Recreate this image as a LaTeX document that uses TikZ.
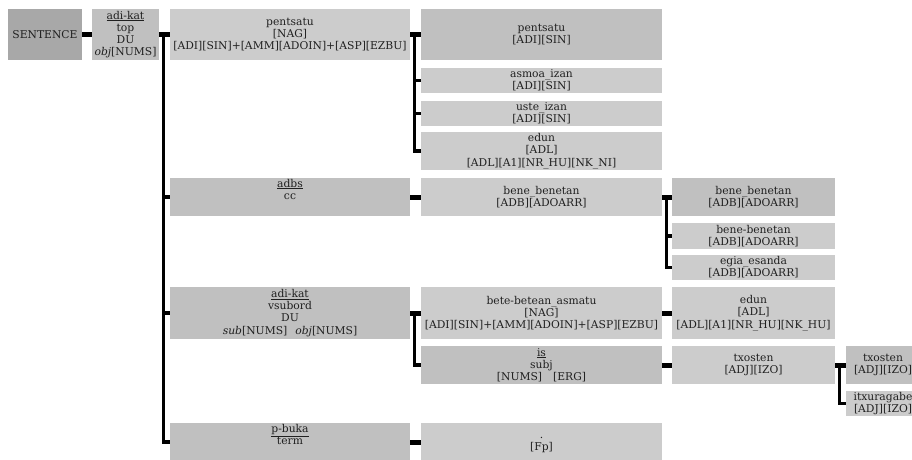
\documentclass[tikz,border=0pt]{standalone}
\usepackage{fontspec}
\setmainfont{DejaVu Serif}
\definecolor{sentc}{HTML}{A8A8A8}
\definecolor{darkc}{HTML}{C0C0C0}
\definecolor{lightc}{HTML}{CCCCCC}
\definecolor{textc}{HTML}{202020}
\begin{document}
\begin{tikzpicture}[x=1pt,y=-1pt,
  box/.style={rectangle, inner sep=0pt, align=center, font=\fontsize{10.75}{12.2}\selectfont, text=textc},
  dk/.style={box, fill=darkc},
  lt/.style={box, fill=lightc},
  wcol/.style={minimum width=240pt},
  wcolb/.style={minimum width=241pt},
  wcolc/.style={minimum width=163pt},
  stub/.style={line width=5pt, black},
  vline/.style={line width=3.2pt, black},
]
\useasboundingbox (0,0) rectangle (912,459);
\clip (0,0) rectangle (912,459);
% column 0/1
\node[box, fill=sentc, minimum width=74pt, minimum height=51pt] (S) at (45,34.5) {SENTENCE};
\node[dk, minimum width=67pt, minimum height=51pt] (A) at (125.5,34.5) {\underline{adi-kat}\\top\\DU\\\textit{obj}[NUMS]};
% column 2
\node[lt, wcol, minimum height=51pt] (B) at (290,34.5) {pentsatu\\{}[NAG]\\{}[ADI][SIN]+[AMM][ADOIN]+[ASP][EZBU]};
\node[dk, wcol, minimum height=38pt] (D) at (290,197) {\underline{adbs}\\cc\\\strut};
\node[dk, wcol, minimum height=52pt] (G) at (290,313) {\underline{adi-kat}\\vsubord\\DU\\\textit{sub}[NUMS]\hspace{8pt}\textit{obj}[NUMS]};
\node[dk, wcol, minimum height=38pt] (M) at (290,442) {\underline{p-buka}\\term\\\strut};
% column 3
\node[dk, wcolb, minimum height=51pt] (C1) at (541.5,34.5) {pentsatu\\{}[ADI][SIN]};
\node[lt, wcolb, minimum height=25pt] (C2) at (541.5,80.5) {asmoa\_izan\\{}[ADI][SIN]};
\node[lt, wcolb, minimum height=25pt] (C3) at (541.5,113.5) {uste\_izan\\{}[ADI][SIN]};
\node[lt, wcolb, minimum height=38pt] (C4) at (541.5,151) {edun\\{}[ADL]\\{}[ADL][A1][NR\_HU][NK\_NI]};
\node[lt, wcolb, minimum height=38pt] (E) at (541.5,197) {bene\_benetan\\{}[ADB][ADOARR]};
\node[lt, wcolb, minimum height=52pt] (H) at (541.5,313) {bete-betean\_asmatu\\{}[NAG]\\{}[ADI][SIN]+[AMM][ADOIN]+[ASP][EZBU]};
\node[dk, wcolb, minimum height=38pt] (J) at (541.5,365) {\underline{is}\\subj\\{}[NUMS]\hspace{11pt}[ERG]};
\node[lt, wcolb, minimum height=44pt] (N) at (541.5,445) {.\\{}[Fp]};
% column 4
\node[dk, wcolc, minimum height=38pt] (F1) at (753.5,197) {bene\_benetan\\{}[ADB][ADOARR]};
\node[lt, wcolc, minimum height=26pt] (F2) at (753.5,236) {bene-benetan\\{}[ADB][ADOARR]};
\node[lt, wcolc, minimum height=25pt] (F3) at (753.5,267.5) {egia\_esanda\\{}[ADB][ADOARR]};
\node[lt, wcolc, minimum height=52pt] (I) at (753.5,313) {edun\\{}[ADL]\\{}[ADL][A1][NR\_HU][NK\_HU]};
\node[lt, wcolc, minimum height=38pt] (K) at (753.5,365) {txosten\\{}[ADJ][IZO]};
% column 5
\node[dk, minimum width=74pt, minimum height=38pt] (L1) at (883,365) {txosten\\{}[ADJ][IZO]};
\node[lt, minimum width=74pt, minimum height=25pt] (L2) at (883,403.5) {itxuragabe\\{}[ADJ][IZO]};
% connectors
\draw[stub] (S.east) -- (S.east -| A.west);
\draw[stub] (A.east) -- (A.east -| B.west);
\draw[vline] ([xshift=4.5pt]A.east) |- (M.west);
\draw[vline] ([xshift=4.5pt]A.east |- D.west) -- (D.west);
\draw[vline] ([xshift=4.5pt]A.east |- G.west) -- (G.west);
\draw[stub] (B.east) -- (B.east -| C1.west);
\draw[vline] ([xshift=4.5pt]B.east) |- (C4.west);
\draw[vline] ([xshift=4.5pt]B.east |- C2.west) -- (C2.west);
\draw[vline] ([xshift=4.5pt]B.east |- C3.west) -- (C3.west);
\draw[stub] (D.east) -- (D.east -| E.west);
\draw[stub] (E.east) -- (E.east -| F1.west);
\draw[vline] ([xshift=4.5pt]E.east) |- (F3.west);
\draw[vline] ([xshift=4.5pt]E.east |- F2.west) -- (F2.west);
\draw[stub] (G.east) -- (G.east -| H.west);
\draw[vline] ([xshift=4.5pt]G.east) |- (J.west);
\draw[stub] (H.east) -- (H.east -| I.west);
\draw[stub] (J.east) -- (J.east -| K.west);
\draw[stub] (K.east) -- (K.east -| L1.west);
\draw[vline] ([xshift=4.5pt]K.east) |- (L2.west);
\draw[stub] (M.east) -- (M.east -| N.west);
\end{tikzpicture}
\end{document}
